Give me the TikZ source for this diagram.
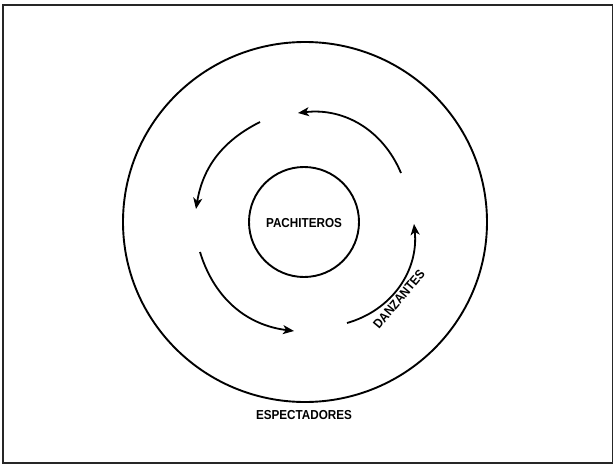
\documentclass[tikz,border=0pt]{standalone}
\usepackage{fontspec}
\setmainfont{Liberation Sans}
\usetikzlibrary{arrows.meta,shapes.geometric}
\newcommand{\narrowtxt}[1]{\scalebox{0.9}[1]{#1}}
\begin{document}
\begin{tikzpicture}[x=1pt,y=-1pt,
  ring/.style={draw=black,line width=1.9pt},
  flow/.style={draw=black,line width=1.8pt,-{Stealth[length=11pt,width=9pt,inset=3pt]}},
  lbl/.style={font=\bfseries\fontsize{13}{15}\selectfont,inner sep=0pt}]
\useasboundingbox (0,0) rectangle (614,466);
\draw[line width=1.5pt,draw=black!85] (3,5) rectangle (612.5,463);
\node[ring,ellipse,minimum width=364pt,minimum height=360pt,inner sep=0pt] (outer) at (305,222) {};
\node[ring,circle,minimum size=110pt,inner sep=0pt] (inner) at (304,222) {};
\node[lbl] (pach) at (304,223) {\narrowtxt{PACHITEROS}};
\node[lbl] (esp) at (304,415) {\narrowtxt{ESPECTADORES}};
\node[lbl,rotate=50] (danz) at (399,299) {\narrowtxt{DANZANTES}};
\coordinate (a1s) at (401,173); \coordinate (a1e) at (298,113);
\coordinate (a2s) at (260,122); \coordinate (a2e) at (196,209);
\coordinate (a3s) at (200,252); \coordinate (a3e) at (294,331);
\coordinate (a4s) at (347,323); \coordinate (a4e) at (414,224);
\draw[flow] (a1s) to[bend right=37] (a1e);
\draw[flow] (a2s) to[bend right=27] (a2e);
\draw[flow] (a3s) to[bend right=33] (a3e);
\draw[flow] (a4s) to[bend right=40] (a4e);
\end{tikzpicture}
\end{document}
